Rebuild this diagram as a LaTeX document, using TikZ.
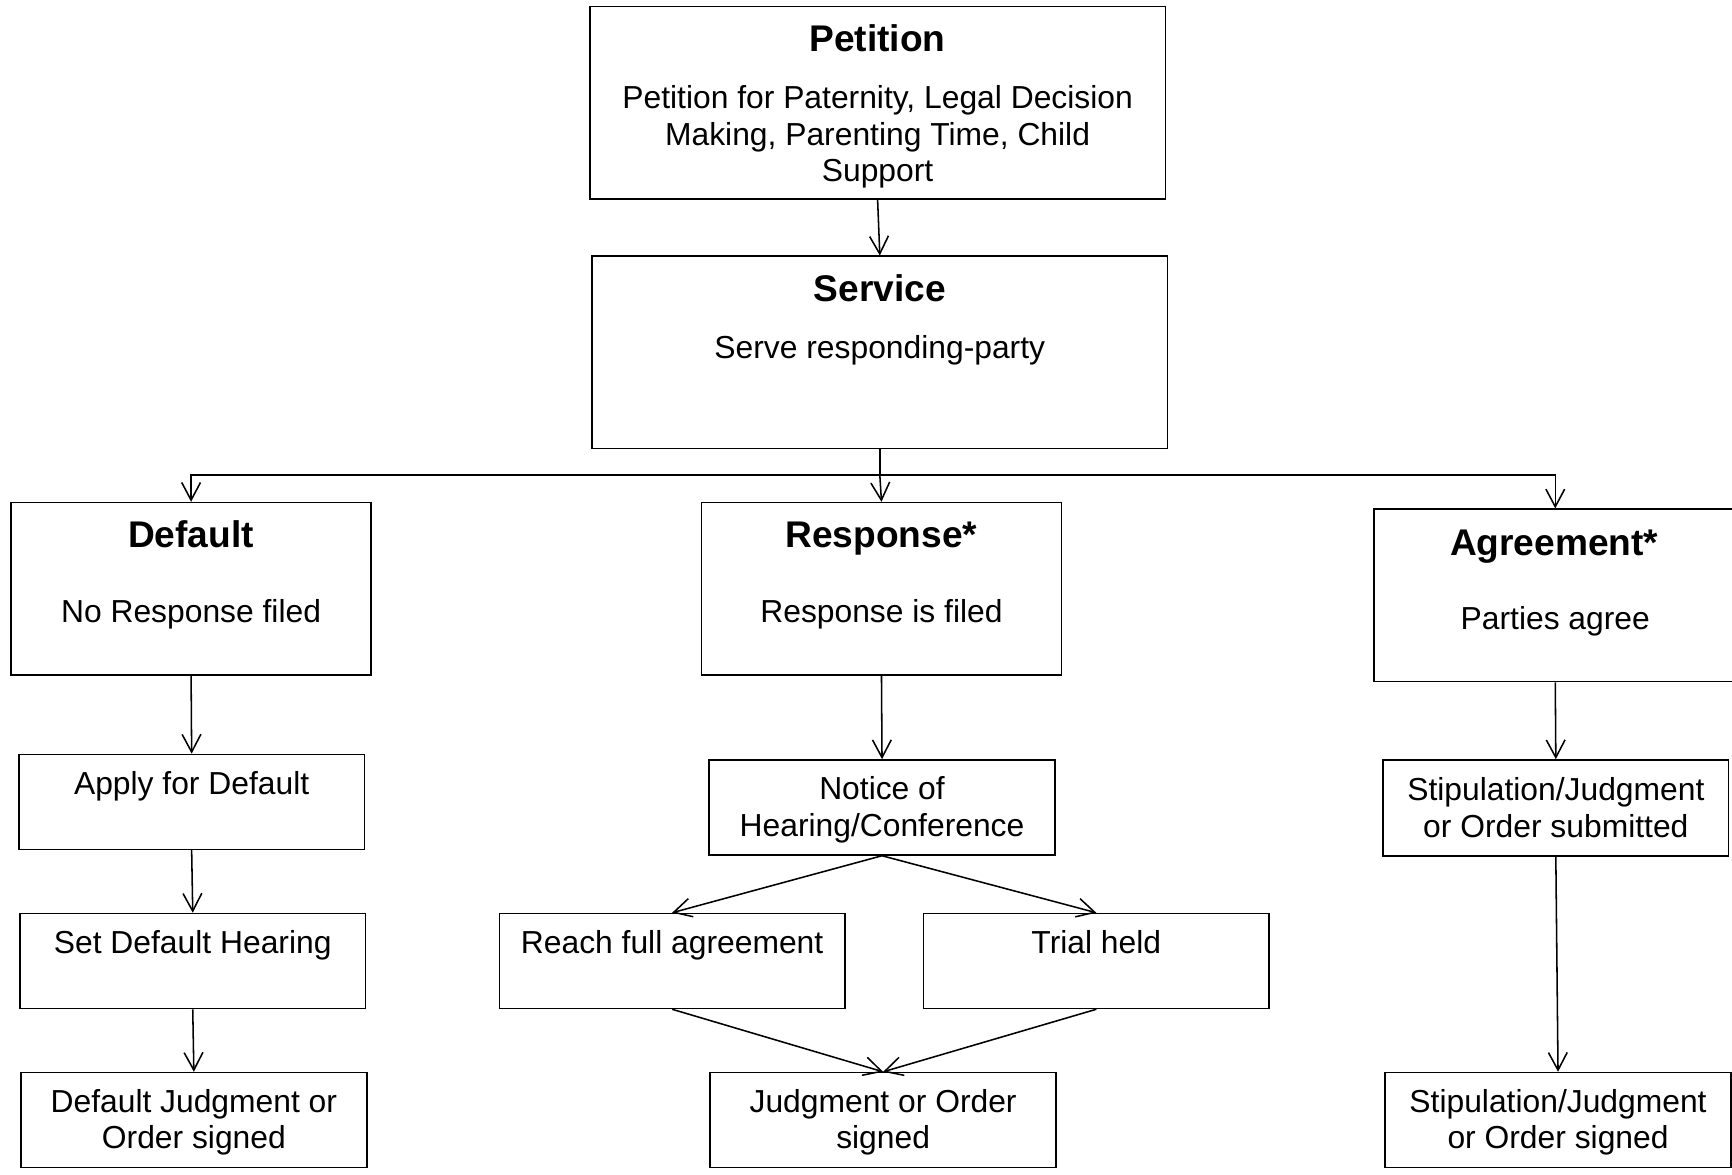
\documentclass[tikz,border=0pt]{standalone}
\usepackage{fontspec}
\setmainfont{Liberation Sans}
\usetikzlibrary{arrows.meta,fit}
\newcommand{\boxlines}[1]{\begin{tabular}[t]{@{}c@{}}#1\end{tabular}}

\begin{document}
\begin{tikzpicture}[x=0.5pt,y=0.5pt,yscale=-1,xscale=1,
    box/.style={draw, line width=0.7pt, inner sep=0pt},
    title/.style={font=\fontsize{16.8}{19}\selectfont\bfseries, anchor=base, inner sep=0pt},
    body/.style={font=\fontsize{14.4}{16.5}\selectfont, anchor=base, inner sep=0pt},
    flow/.style={line width=0.7pt, -{Straight Barb[length=8pt,width=8.5pt]}}]
        \useasboundingbox (0,0) rectangle (1568,1063.7); %page size

        %Shape: Rectangle [top]
        \node[box, fit={(534,6) (1055,180)}] (petition) {};
        \node[box, fit={(536,232) (1057,406)}] (service) {};
        %Shape: Rectangle [three branches]
        \node[box, fit={(10,455) (336,611)}] (default) {};
        \node[box, fit={(635,455) (961,611)}] (response) {};
        \node[box, fit={(1244,461) (1572,617)}] (agreement) {};
        %Shape: Rectangle [default column]
        \node[box, fit={(17,683) (330,769)}] (apply) {};
        \node[box, fit={(18,827) (331,913)}] (hearing) {};
        \node[box, fit={(19,971) (332,1057)}] (defsigned) {};
        %Shape: Rectangle [response column]
        \node[box, fit={(642,688) (955,774)}] (notice) {};
        \node[box, fit={(452,827) (765,913)}] (reach) {};
        \node[box, fit={(836,827) (1149,913)}] (trial) {};
        \node[box, fit={(643,971) (956,1057)}] (signed) {};
        %Shape: Rectangle [agreement column]
        \node[box, fit={(1252,688) (1565,775)}] (stipsub) {};
        \node[box, fit={(1254,971) (1567,1057)}] (stipsigned) {};

        % Text Node
        \node[title] (petition-t) at (794.5,47) {Petition};
        % Text Node
        \node[body] (petition-b) at (794.5,98.5) {\boxlines{Petition for Paternity, Legal Decision\\Making, Parenting Time, Child\\Support}};
        % Text Node
        \node[title] (service-t) at (796.5,273) {Service};
        % Text Node
        \node[body] (service-b) at (796.5,325) {Serve responding-party};
        % Text Node
        \node[title] (default-t) at (173,496) {Default};
        % Text Node
        \node[body] (default-b) at (173,564) {No Response filed};
        % Text Node
        \node[title] (response-t) at (798,496) {Response*};
        % Text Node
        \node[body] (response-b) at (798,564) {Response is filed};
        % Text Node
        \node[title] (agreement-t) at (1407,503) {Agreement*};
        % Text Node
        \node[body] (agreement-b) at (1408,570) {Parties agree};
        % Text Node
        \node[body] (apply-b) at (173.5,719) {Apply for Default};
        % Text Node
        \node[body] (hearing-b) at (174.5,863) {Set Default Hearing};
        % Text Node
        \node[body] (defsigned-b) at (175.5,1007) {\boxlines{Default Judgment or\\Order signed}};
        % Text Node
        \node[body] (notice-b) at (798.5,724) {\boxlines{Notice of\\Hearing/Conference}};
        % Text Node
        \node[body] (reach-b) at (608.5,863) {Reach full agreement};
        % Text Node
        \node[body] (trial-b) at (992.5,863) {Trial held};
        % Text Node
        \node[body] (signed-b) at (799.5,1007) {\boxlines{Judgment or Order\\signed}};
        % Text Node
        \node[body] (stipsub-b) at (1408.5,725) {\boxlines{Stipulation/Judgment\\or Order submitted}};
        % Text Node
        \node[body] (stipsigned-b) at (1410.5,1007) {\boxlines{Stipulation/Judgment\\or Order signed}};

        %Straight Lines [top]
        \draw[flow] (petition.south) -- (service.north);
        \coordinate (split) at (796.5,430);
        \draw[line width=0.7pt] (service.south) -- (split);
        \draw[flow] (split) -| (default.north);
        \draw[flow] (split) -- (response.north);
        \draw[flow] (split) -| (agreement.north);
        %Straight Lines [default column]
        \draw[flow] (default.south) -- (apply.north);
        \draw[flow] (apply.south) -- (hearing.north);
        \draw[flow] (hearing.south) -- (defsigned.north);
        %Straight Lines [response column]
        \draw[flow] (response.south) -- (notice.north);
        \draw[flow] (notice.south) -- (reach.north);
        \draw[flow] (notice.south) -- (trial.north);
        \draw[flow] (reach.south) -- (signed.north);
        \draw[flow] (trial.south) -- (signed.north);
        %Straight Lines [agreement column]
        \draw[flow] (agreement.south) -- (stipsub.north);
        \draw[flow] (stipsub.south) -- (stipsigned.north);

\end{tikzpicture}
\end{document}
